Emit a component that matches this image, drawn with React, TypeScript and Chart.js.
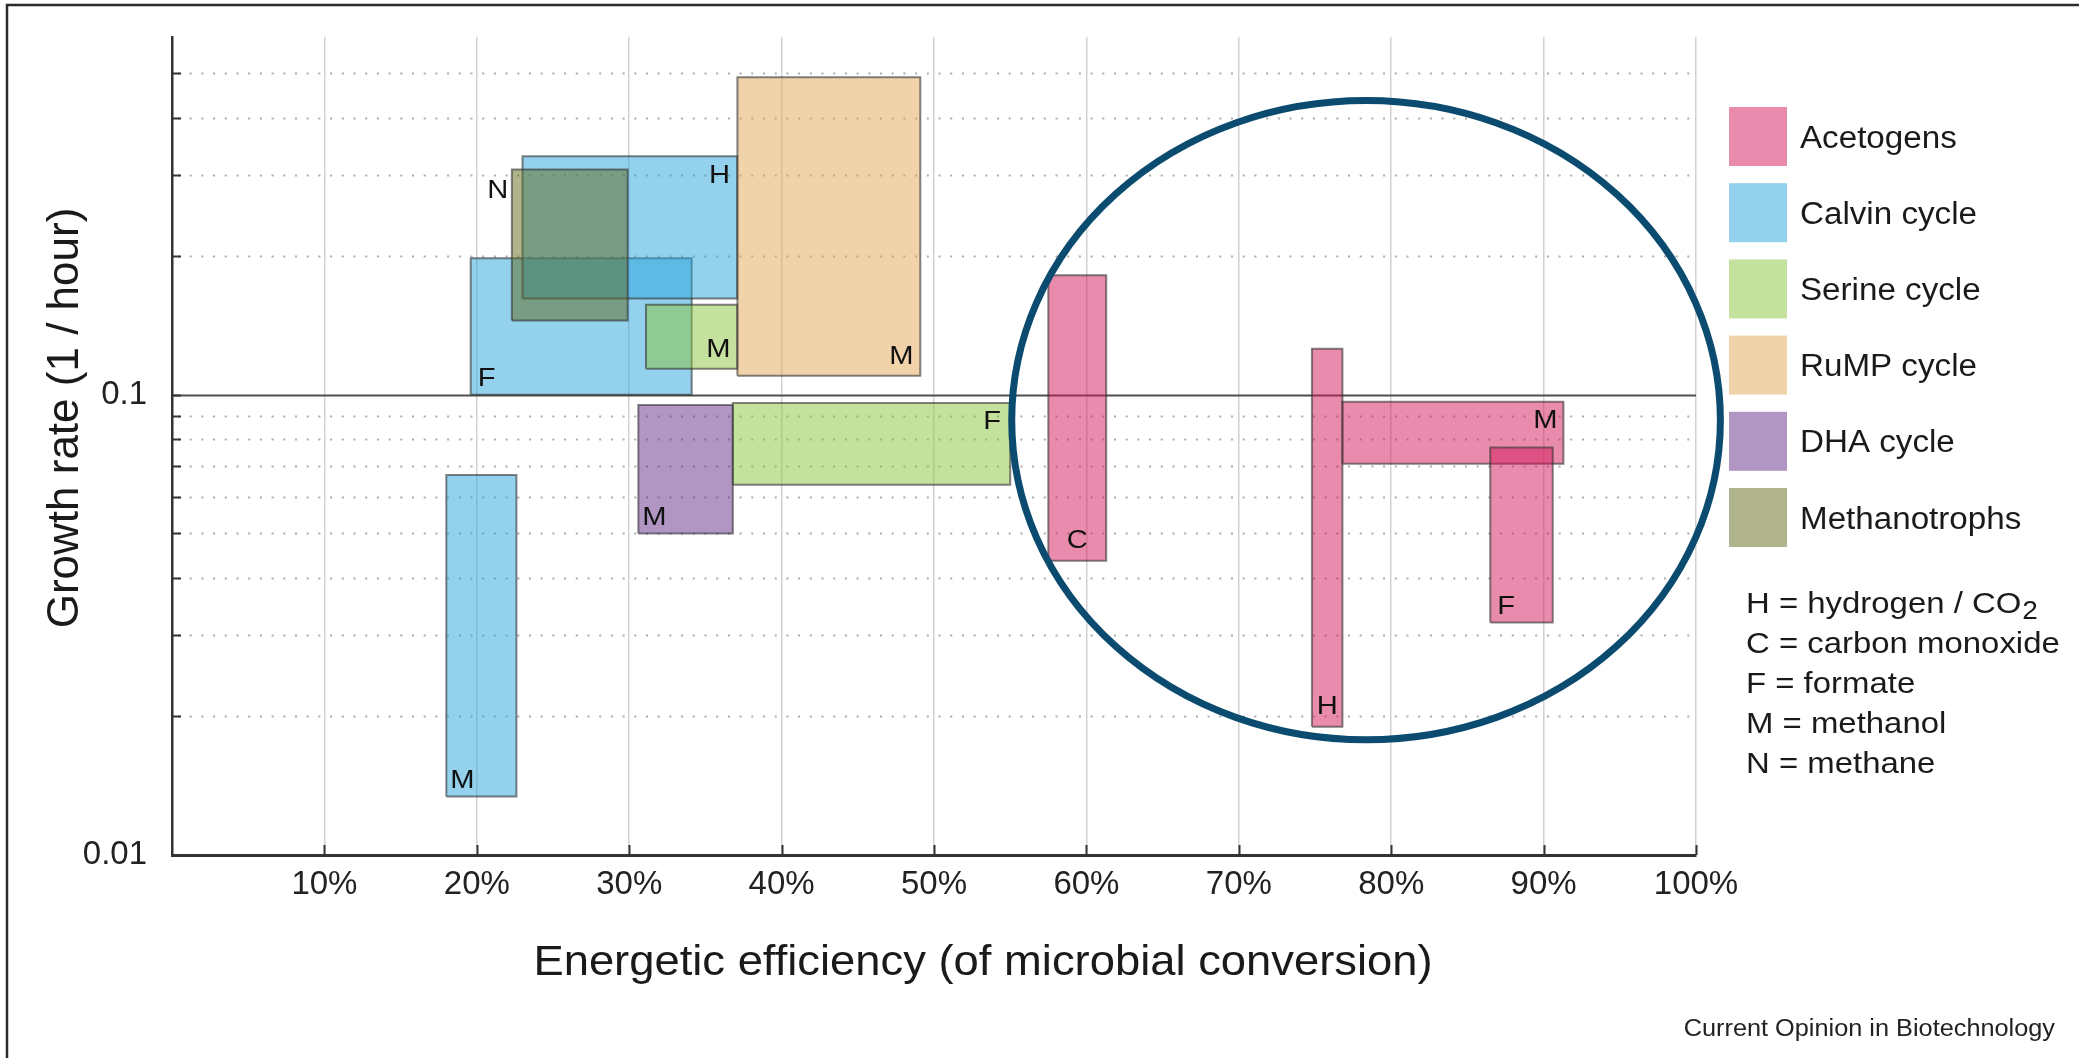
import { useEffect, useRef } from 'react';
import { Chart, registerables } from 'chart.js';

Chart.register(...registerables);

const FONT = "'Liberation Sans', Arial, Helvetica, sans-serif";

// ---------------- data ----------------
const groups = ['Acetogens', 'Calvin cycle', 'Serine cycle', 'RuMP cycle', 'DHA cycle', 'Methanotrophs'];
const groupRGB: number[][] = [
  [211, 23, 89],
  [39, 163, 219],
  [139, 195, 61],
  [225, 167, 85],
  [99, 45, 137],
  [95, 105, 27],
];

// one entry per rectangle (bottom -> top drawing order)
const rectGroup = [1, 1, 1, 5, 2, 3, 4, 2, 0, 0, 0, 0];
const rectSubstrate = ['F', 'H', 'M', 'N', 'M', 'M', 'M', 'F', 'C', 'H', 'M', 'F'];
const effLow = [19.6, 23.0, 18.0, 22.3, 31.1, 37.1, 30.6, 36.8, 57.5, 74.8, 76.8, 86.5];
const effHigh = [34.1, 37.1, 22.6, 29.9, 37.1, 49.1, 36.8, 55.0, 61.3, 76.8, 91.3, 90.6];
const rateLow = [0.1, 0.162, 0.0134, 0.145, 0.114, 0.11, 0.05, 0.0638, 0.0436, 0.019, 0.0708, 0.032];
const rateHigh = [0.198, 0.33, 0.067, 0.309, 0.157, 0.49, 0.095, 0.096, 0.182, 0.126, 0.0966, 0.0768];
const labelAnchor = ['bl', 'tr', 'bl', 'ol', 'br', 'br', 'bl', 'tr', 'bc', 'bc', 'tr', 'bl'];

const xTickValues = [0, 10, 20, 30, 40, 50, 60, 70, 80, 90, 100];
const yTickValues = [0.01, 0.02, 0.03, 0.04, 0.05, 0.06, 0.07, 0.08, 0.09, 0.1, 0.2, 0.3, 0.4, 0.5];
const yLabelled = [0.01, 0.1];
const yMin = 0.01;
const yMax = 0.6;
const xMin = 0;
const xMax = 100;

const substrateCodes = ['H', 'C', 'F', 'M', 'N'];
const substrateNames = ['hydrogen / CO\u2082', 'carbon monoxide', 'formate', 'methanol', 'methane'];

const highlightEff = [55.1, 101.6];
const highlightRate = [0.0178, 0.436];

const xTitle = 'Energetic efficiency (of microbial conversion)';
const yTitle = 'Growth rate (1 / hour)';
const sourceText = 'Current Opinion in Biotechnology';

// ---------------- helpers ----------------
const rgba = (c: number[], a: number) => `rgba(${c[0]},${c[1]},${c[2]},${a})`;

function drawText(ctx: any, text: string, x: number, y: number, size: number, sx: number, align: string, color = '#1a1a1a') {
  ctx.save();
  ctx.font = `${size}px ${FONT}`;
  ctx.textBaseline = 'alphabetic';
  ctx.textAlign = 'left';
  const w = ctx.measureText(text).width * sx;
  const left = align === 'center' ? x - w / 2 : align === 'right' ? x - w : x;
  ctx.translate(left, y);
  ctx.scale(sx, 1);
  ctx.fillStyle = color;
  ctx.fillText(text, 0, 0);
  ctx.restore();
  return w;
}

const decorPlugin = {
  id: 'decor',
  beforeDraw(chart: any) {
    const { ctx, width, height } = chart;
    ctx.save();
    ctx.fillStyle = '#ffffff';
    ctx.fillRect(0, 0, width, height);
    ctx.restore();
  },
  beforeDatasetsDraw(chart: any) {
    const { ctx, chartArea: a, scales } = chart;
    const x = scales.x;
    const y = scales.y;
    ctx.save();
    y.ticks.forEach((t: any) => {
      const v = t.value;
      if (v <= yMin || v >= yMax) return;
      const py = Math.round(y.getPixelForValue(v)) + 0.5;
      ctx.beginPath();
      if (Math.abs(v - 0.1) < 1e-9) {
        ctx.setLineDash([]);
        ctx.strokeStyle = '#4f4f4f';
        ctx.lineWidth = 2.2;
        ctx.moveTo(a.left, py);
        ctx.lineTo(a.right, py);
      } else {
        ctx.setLineDash([2, 9.7]);
        ctx.strokeStyle = '#ababab';
        ctx.lineWidth = 2;
        ctx.moveTo(a.left + 6, py);
        ctx.lineTo(a.right, py);
      }
      ctx.stroke();
      // inner tick mark on the y axis
      ctx.setLineDash([]);
      ctx.beginPath();
      ctx.strokeStyle = '#333';
      ctx.lineWidth = 2;
      ctx.moveTo(a.left, py);
      ctx.lineTo(a.left + 9, py);
      ctx.stroke();
    });
    // inner tick marks on the x axis
    x.ticks.forEach((t: any) => {
      if (t.value <= xMin) return;
      const px = Math.round(x.getPixelForValue(t.value)) + 0.5;
      ctx.beginPath();
      ctx.strokeStyle = '#333';
      ctx.lineWidth = 2;
      ctx.moveTo(px, a.bottom);
      ctx.lineTo(px, a.bottom - 10);
      ctx.stroke();
    });
    ctx.restore();
  },
  afterDatasetsDraw(chart: any) {
    const { ctx, scales } = chart;
    const x = scales.x;
    const y = scales.y;
    const size = 26;
    const cap = size * 0.716;
    rectSubstrate.forEach((letter, i) => {
      const x1 = x.getPixelForValue(effLow[i]);
      const x2 = x.getPixelForValue(effHigh[i]);
      const yt = y.getPixelForValue(rateHigh[i]);
      const yb = y.getPixelForValue(rateLow[i]);
      let cx = 0;
      let cy = 0;
      switch (labelAnchor[i]) {
        case 'bl': cx = x1 + 16; cy = yb - 18; break;
        case 'br': cx = x2 - 19; cy = yb - 21; break;
        case 'tr': cx = x2 - 18; cy = yt + 17; break;
        case 'bc': cx = (x1 + x2) / 2; cy = yb - 22; break;
        case 'ol': cx = x1 - 14; cy = yt + 19; break;
      }
      drawText(ctx, letter, cx, cy + cap / 2, size, 1.12, 'center', '#111');
    });
    // highlight ellipse around the acetogens
    const ex1 = x.getPixelForValue(highlightEff[0]);
    const ex2 = x.getPixelForValue(highlightEff[1]);
    const ey1 = y.getPixelForValue(highlightRate[1]);
    const ey2 = y.getPixelForValue(highlightRate[0]);
    ctx.save();
    ctx.beginPath();
    ctx.ellipse((ex1 + ex2) / 2, (ey1 + ey2) / 2, (ex2 - ex1) / 2, (ey2 - ey1) / 2, 0, 0, Math.PI * 2);
    ctx.lineWidth = 7;
    ctx.strokeStyle = '#0a4b6f';
    ctx.stroke();
    ctx.restore();
  },
  afterDraw(chart: any) {
    const { ctx, chartArea: a, width, height } = chart;
    // legend
    groups.forEach((g, i) => {
      const top = 107 + 76.2 * i;
      ctx.save();
      ctx.fillStyle = rgba(groupRGB[i], 0.5);
      ctx.fillRect(1729, top, 58, 59);
      ctx.restore();
      drawText(ctx, g, 1800, top + 29.5 + 31 * 0.716 / 2, 31, 1.07, 'left');
    });
    // substrate notes
    substrateCodes.forEach((c, i) => {
      const base = 613 + 40 * i;
      const name = substrateNames[i];
      const parts = name.split('\u2082');
      let xx = 1746;
      xx += drawText(ctx, `${c} = ${parts[0]}`, xx, base, 29, 1.135, 'left');
      if (parts.length > 1) {
        drawText(ctx, '2', xx + 1, base + 6, 25, 1.12, 'left');
      }
    });
    // axis titles
    drawText(ctx, xTitle, (a.left + a.right) / 2 + 49, 975, 42, 1.08, 'center');
    ctx.save();
    ctx.translate(78, 418);
    ctx.rotate(-Math.PI / 2);
    ctx.font = `44px ${FONT}`;
    ctx.textAlign = 'center';
    ctx.textBaseline = 'alphabetic';
    ctx.fillStyle = '#1a1a1a';
    ctx.fillText(yTitle, 0, 0);
    ctx.restore();
    // source
    drawText(ctx, sourceText, 2055, 1036, 23, 1.1, 'right', '#222');
    // frame
    ctx.save();
    ctx.strokeStyle = '#2a2a2a';
    ctx.lineWidth = 2.5;
    ctx.beginPath();
    ctx.moveTo(7, height);
    ctx.lineTo(7, 5);
    ctx.lineTo(width, 5);
    ctx.stroke();
    ctx.restore();
  },
};

export default function App() {
  const ref = useRef<HTMLCanvasElement>(null);
  useEffect(() => {
    const canvas = ref.current;
    if (!canvas) return;
    const datasets = rectSubstrate.map((s, i) => ({
      label: `${groups[rectGroup[i]]} ${s}`,
      data: [
        { x: effLow[i], y: rateLow[i] },
        { x: effHigh[i], y: rateLow[i] },
        { x: effHigh[i], y: rateHigh[i] },
        { x: effLow[i], y: rateHigh[i] },
        { x: effLow[i], y: rateLow[i] },
      ],
      showLine: true,
      fill: 'shape',
      backgroundColor: rgba(groupRGB[rectGroup[i]], 0.5),
      borderColor: 'rgba(50,50,50,0.6)',
      borderWidth: 2,
      borderJoinStyle: 'miter',
      pointRadius: 0,
      pointHoverRadius: 0,
      tension: 0,
      order: rectSubstrate.length - i,
    }));
    const chart = new Chart(canvas, {
      type: 'scatter',
      data: { datasets } as any,
      options: {
        responsive: false,
        animation: false,
        devicePixelRatio: 1,
        events: [],
        layout: { padding: { left: 0, top: 35, right: 383, bottom: 0 } },
        plugins: { legend: { display: false }, tooltip: { enabled: false } },
        scales: {
          x: {
            type: 'linear',
            min: xMin,
            max: xMax,
            afterBuildTicks: (s: any) => { s.ticks = xTickValues.map((v) => ({ value: v })); },
            afterFit: (s: any) => { s.height = 203; },
            ticks: {
              autoSkip: false,
              maxRotation: 0,
              padding: 10,
              color: '#222',
              font: { family: FONT, size: 33 },
              callback: (v: any) => (Number(v) === 0 ? '' : `${v}%`),
            },
            grid: {
              drawTicks: false,
              lineWidth: 1.5,
              color: (c: any) => (c.tick && c.tick.value === 0 ? 'rgba(0,0,0,0)' : '#d2d2d2'),
            },
            border: { display: true, color: '#333', width: 3 },
          },
          y: {
            type: 'logarithmic',
            min: yMin,
            max: yMax,
            afterBuildTicks: (s: any) => { s.ticks = yTickValues.map((v) => ({ value: v })); },
            afterFit: (s: any) => { s.width = 172; },
            ticks: {
              autoSkip: false,
              padding: 17,
              color: '#222',
              font: { family: FONT, size: 33 },
              callback: (v: any) => (yLabelled.some((l) => Math.abs(l - Number(v)) < 1e-9) ? String(v) : ''),
            },
            grid: { display: false },
            border: { display: true, color: '#333', width: 2.5 },
          },
        },
      } as any,
      plugins: [decorPlugin],
    });
    return () => chart.destroy();
  }, []);
  return (
    <div style={{ position: 'fixed', left: 0, top: 0, width: 2079, height: 1058, background: '#fff' }}>
      <canvas ref={ref} width={2079} height={1058} style={{ display: 'block', width: 2079, height: 1058 }} />
    </div>
  );
}
